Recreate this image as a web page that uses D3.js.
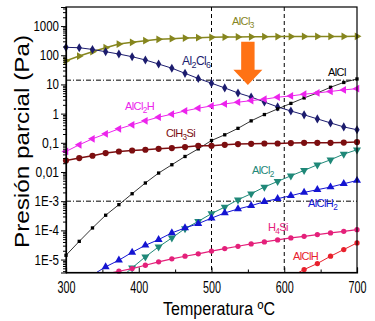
<!DOCTYPE html>
<html><head><meta charset="utf-8">
<script src="https://cdn.jsdelivr.net/npm/d3@7"></script>
<style>
body{margin:0;background:#fff}
svg{display:block;background:#fff}
text{font-family:"Liberation Sans",Arial,Helvetica,sans-serif}
</style>
</head><body>
<svg id="c" width="375" height="321"></svg>
<script>
// ---------- data ----------
const temps  = [300, 318.2, 336.4, 354.5, 372.7, 390.9, 409.1, 427.3, 445.5, 463.6, 481.8, 500,
                518.2, 536.4, 554.5, 572.7, 590.9, 609.1, 627.3, 645.5, 663.6, 681.8, 700];
const AlCl3  = [65, 94, 132, 181, 242, 277, 314, 351, 368, 389, 398, 411, 420, 426, 430, 433, 436, 438, 440, 441, 442, 443, 444];
const Al2Cl6 = [187, 181, 158, 132, 110, 89, 69, 50, 36, 24, 16, 11, 7.6, 5.1, 3.7, 2.5, 1.7, 1.23, 0.91, 0.66, 0.48, 0.35, 0.28];
const AlCl   = [1.4e-5, 4.2e-5, 1.21e-4, 3.3e-4, 7.6e-4, 1.8e-3, 4.2e-3, 9.2e-3, 0.0177, 0.034, 0.062, 0.12,
                0.188, 0.313, 0.565, 0.929, 1.45, 2.24, 3.45, 5.1, 8.0, 11.7, 15.4];
const AlCl2H = [0.0505, 0.0855, 0.137, 0.203, 0.301, 0.412, 0.565, 0.757, 0.958, 1.24, 1.53, 1.84,
                2.15, 2.46, 2.79, 3.12, 3.65, 4.04, 4.62, 5.12, 5.76, 6.49, 7.18];
const ClH3Si = [0.0248, 0.030, 0.036, 0.0445, 0.0504, 0.0546, 0.0577, 0.0624, 0.0659, 0.0713, 0.0789, 0.0789,
                0.0855, 0.0904, 0.0925, 0.0947, 0.0947, 0.0978, 0.100, 0.100, 0.100, 0.102, 0.106];
const AlCl2  = [null, null, null, null, 2.07e-6, 5.2e-6, 1.24e-5, 2.72e-5, 5.5e-5, 1.15e-4, 2.04e-4, 3.74e-4,
                6.3e-4, 1.12e-3, 1.8e-3, 3.05e-3, 4.75e-3, 7.4e-3, 0.0113, 0.0177, 0.0262, 0.041, 0.0577];
const AlClH2 = [null, 1.5e-6, 2.95e-6, 5.64e-6, 9.5e-6, 1.77e-5, 3.08e-5, 4.83e-5, 8.2e-5, 1.21e-4, 1.7e-4, 2.62e-4,
                3.95e-4, 5.4e-4, 7.0e-4, 9.6e-4, 1.22e-3, 1.54e-3, 2.0e-3, 2.47e-3, 3.05e-3, 3.96e-3, 5.1e-3];
const H4Si   = [null, null, null, 3.19e-6, 3.98e-6, 4.92e-6, 6.38e-6, 8.34e-6, 1.06e-5, 1.3e-5, 1.57e-5, 1.95e-5,
                2.38e-5, 2.85e-5, 3.44e-5, 4.03e-5, 4.72e-5, 5.52e-5, 6.27e-5, 7.16e-5, 8.2e-5, 9.3e-5, 1.06e-4];
const AlClH  = [null, null, null, null, null, null, null, null, null, null, null, null,
                null, null, null, null, null, 2.6e-6, 4.55e-6, 7.3e-6, 1.3e-5, 2.2e-5, 3.72e-5];

const yTickValues = [1000, 100, 10, 1, 0.1, 0.01, 1e-3, 1e-4, 1e-5];
const yTickLabels = ["1000", "100", "10", "1", "0,1", "0,01", "1E-3", "1E-4", "1E-5"];
const xTickValues = [300, 400, 500, 600, 700];
const xTickLabels = ["300", "400", "500", "600", "700"];
const xMinorTicks = [350, 450, 550, 650];
const refTemps = [500, 600];
const refPressures = [14, 1e-3];
const arrowTemp = 550, arrowTop = 290, arrowBase = 32, arrowTip = 9.5;

// ---------- setup ----------
const svg = d3.select("#c");
const L = 66, R = 357, T = 7, B = 272.5;
const x = d3.scaleLinear().domain([300, 700]).range([L, R]);
const y = d3.scaleLog().domain([3.6e-6, 4500]).range([B, T]);

const series = [
  {values: AlCl3,  color: "#86861e", sym: d3.symbolTriangle, rot: 90,  size: 26, lw: 1.5,
   label: [["AlCl",0],["3",1]], lx: 232, ly: 25, fs: 11},
  {values: Al2Cl6, color: "#1c1c6e", sym: d3.symbolDiamond,  rot: 0,   size: 24, lw: 1,
   label: [["Al",0],["2",1],["Cl",0],["6",1]], lx: 182, ly: 65, fs: 12},
  {values: AlCl,   color: "#000000", sym: d3.symbolSquare,   rot: 0,   size: 11, lw: 0.8,
   label: [["AlCl",0]], lx: 328, ly: 76, fs: 11},
  {values: AlCl2H, color: "#ec24ec", sym: d3.symbolTriangle, rot: -90, size: 26, lw: 1,
   label: [["AlCl",0],["2",1],["H",0]], lx: 125, ly: 110, fs: 11},
  {values: ClH3Si, color: "#7c0e10", sym: d3.symbolCircle,   rot: 0,   size: 30, lw: 1.5,
   label: [["ClH",0],["3",1],["Si",0]], lx: 166, ly: 137, fs: 11},
  {values: AlCl2,  color: "#1f8878", sym: d3.symbolTriangle, rot: 180, size: 28, lw: 1,
   label: [["AlCl",0],["2",1]], lx: 252, ly: 174, fs: 11},
  {values: AlClH2, color: "#1414d2", sym: d3.symbolTriangle, rot: 0,   size: 28, lw: 1,
   label: [["AlClH",0],["2",1]], lx: 308, ly: 207, fs: 11},
  {values: H4Si,   color: "#e4207a", sym: d3.symbolCircle,   rot: 0,   size: 22, lw: 1.2,
   label: [["H",0],["4",1],["Si",0]], lx: 268, ly: 231, fs: 11},
  {values: AlClH,  color: "#e8202c", sym: d3.symbolCircle,   rot: 0,   size: 22, lw: 1,
   label: [["AlClH",0]], lx: 293, ly: 260, fs: 11}
];

svg.append("defs").append("clipPath").attr("id", "clip")
  .append("rect").attr("x", L).attr("y", T).attr("width", R - L).attr("height", B - T);

// ---------- reference lines ----------
const ref = svg.append("g");
ref.selectAll(".vr").data(refTemps).enter().append("line")
  .attr("x1", d => x(d)).attr("x2", d => x(d)).attr("y1", T).attr("y2", B)
  .attr("stroke", "#000").attr("stroke-width", 1).attr("stroke-dasharray", "4,3");
ref.selectAll(".hr").data(refPressures).enter().append("line")
  .attr("x1", L).attr("x2", R).attr("y1", d => y(d)).attr("y2", d => y(d))
  .attr("stroke", "#000").attr("stroke-width", 1).attr("stroke-dasharray", "5,2,1,2");

// ---------- series ----------
const line = d3.line().defined(d => d.v != null).x(d => x(d.t)).y(d => y(d.v));
const plot = svg.append("g");
series.forEach(s => {
  const pts = temps.map((t, i) => ({t, v: s.values[i]}));
  plot.append("path").attr("clip-path", "url(#clip)")
    .attr("d", line(pts)).attr("fill", "none")
    .attr("stroke", s.color).attr("stroke-width", s.lw);
  const sym = d3.symbol().type(s.sym).size(s.size);
  plot.selectAll(null).data(pts.filter(d => d.v != null && y(d.v) <= B - 1)).enter()
    .append("path").attr("d", sym)
    .attr("transform", d => `translate(${x(d.t)},${y(d.v)}) rotate(${s.rot})`)
    .attr("fill", s.color);
});

// ---------- arrow ----------
const ax = x(arrowTemp), yTop = y(arrowTop), yBase = y(arrowBase), yTip = y(arrowTip);
svg.append("path")
  .attr("d", `M${ax-6.7},${yTop} L${ax+6.7},${yTop} L${ax+6.7},${yBase} L${ax+14.5},${yBase}
              L${ax},${yTip} L${ax-14.5},${yBase} L${ax-6.7},${yBase} Z`)
  .attr("fill", "#ff7214");

// ---------- labels ----------
series.forEach(s => {
  const t = svg.append("text").attr("x", s.lx).attr("y", s.ly)
    .attr("fill", s.color).attr("font-size", s.fs).attr("letter-spacing", "-0.6px");
  let sub = 0;
  s.label.forEach(([txt, isSub]) => {
    const ts = t.append("tspan").text(txt);
    if (isSub && !sub) { ts.attr("dy", 3).attr("font-size", s.fs * 0.75); sub = 1; }
    else if (isSub) { ts.attr("font-size", s.fs * 0.75); }
    else if (sub) { ts.attr("dy", -3); sub = 0; }
  });
});

// ---------- axes ----------
const charW = {",": 4.2, "E": 7.4, "-": 4.2};
const lenOf = s => s.split("").reduce((a, c) => a + (charW[c] || 6.4), 0);

const yAx = svg.append("g").attr("transform", `translate(${L},0)`)
  .call(d3.axisLeft(y).tickValues(yTickValues).tickSize(5).tickPadding(2)
        .tickFormat((d, i) => yTickLabels[i]));
yAx.selectAll("text").attr("font-size", 14).attr("fill", "#000")
  .attr("font-family", '"Liberation Sans",Arial,sans-serif')
  .attr("textLength", d => lenOf(yTickLabels[yTickValues.indexOf(d)]))
  .attr("lengthAdjust", "spacingAndGlyphs");
const yMinor = [];
for (let e = -6; e <= 3; e++) for (let k = 2; k <= 9; k++) {
  const v = k * Math.pow(10, e);
  if (v >= 3.6e-6 && v <= 4500) yMinor.push(v);
}
svg.append("g").attr("transform", `translate(${L},0)`)
  .call(d3.axisLeft(y).tickValues(yMinor).tickSize(3).tickFormat(""))
  .call(g => g.select(".domain").remove());

const xAx = svg.append("g").attr("transform", `translate(0,${B})`)
  .call(d3.axisBottom(x).tickValues(xTickValues).tickSize(-5).tickPadding(9)
        .tickFormat((d, i) => xTickLabels[i]));
xAx.selectAll("text").attr("font-size", 16).attr("fill", "#000")
  .attr("font-family", '"Liberation Sans",Arial,sans-serif')
  .attr("textLength", 18).attr("lengthAdjust", "spacingAndGlyphs");
svg.append("g").attr("transform", `translate(0,${B})`)
  .call(d3.axisBottom(x).tickValues(xMinorTicks).tickSize(-3).tickFormat(""))
  .call(g => g.select(".domain").remove());

svg.selectAll(".domain").attr("stroke", "#000").attr("stroke-width", 1.2);
svg.selectAll(".tick line").attr("stroke", "#000");

// frame
svg.append("rect").attr("x", L).attr("y", T).attr("width", R - L).attr("height", B - T)
  .attr("fill", "none").attr("stroke", "#000").attr("stroke-width", 1.2);

// titles
svg.append("text").attr("transform", `translate(29,141.5) rotate(-90)`)
  .attr("text-anchor", "middle").attr("font-size", 20).attr("fill", "#000")
  .attr("textLength", 213).attr("lengthAdjust", "spacingAndGlyphs")
  .text("Presión parcial (Pa)");
svg.append("text").attr("x", 219).attr("y", 315)
  .attr("text-anchor", "middle").attr("font-size", 18).attr("fill", "#000")
  .attr("textLength", 112).attr("lengthAdjust", "spacingAndGlyphs")
  .text("Temperatura ºC");
</script>
</body></html>
